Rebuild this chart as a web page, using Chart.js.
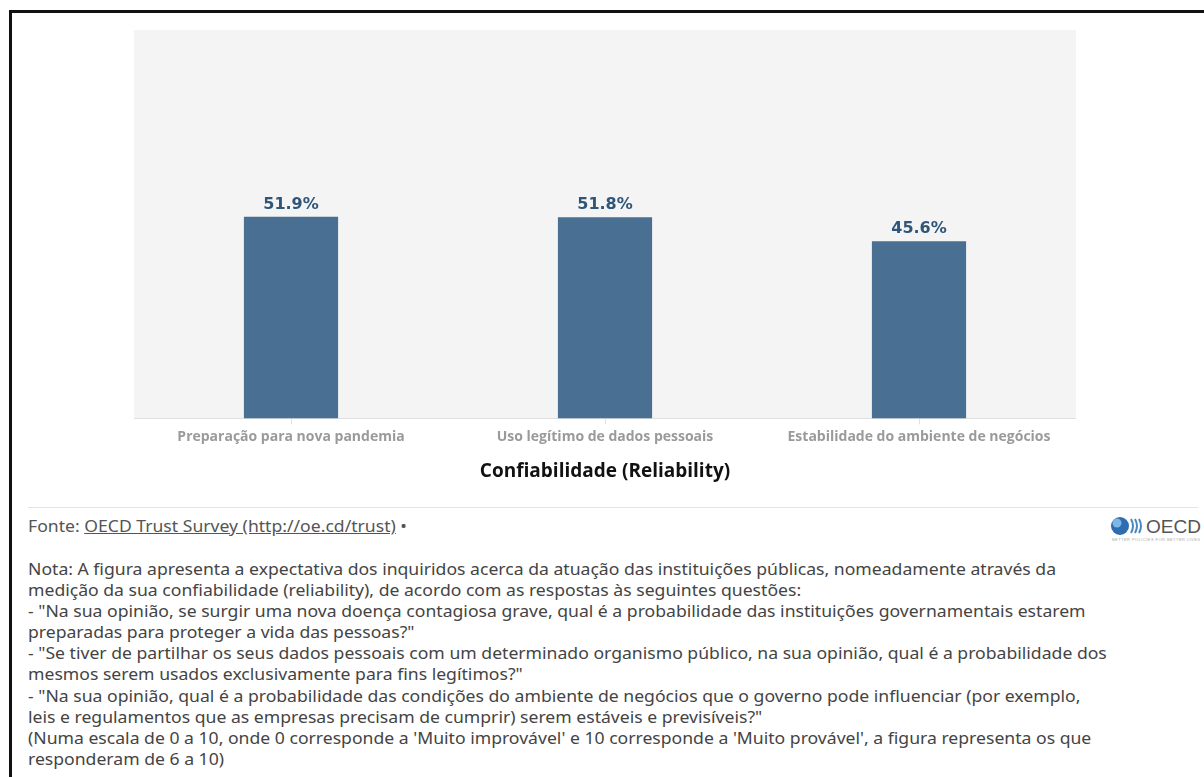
<!DOCTYPE html>
<html>
<head>
<meta charset="utf-8">
<script src="https://cdn.jsdelivr.net/npm/chart.js@4"></script>
<style>
  html, body { margin: 0; padding: 0; background: #fff; }
  body { width: 1204px; height: 777px; position: relative; overflow: hidden; }
  #frame { position: absolute; left: 9px; top: 10px; width: 1210px; height: 800px;
           border-top: 3px solid #111; border-left: 3px solid #111; }
  #chartBox { position: absolute; left: 134px; top: 30px; width: 942px; height: 457px; }
  #sep { position: absolute; left: 28px; top: 507px; width: 1170px; height: 1px; background: #e3e3e3; }
  #source { position: absolute; left: 28px; top: 515px; font: 16px "Noto Sans", sans-serif; color: #555;
            white-space: nowrap; transform: scaleX(1.1); transform-origin: left top; }
  #source a { color: #555; text-decoration: underline; }
  #logo { position: absolute; left: 1108px; top: 513px; width: 96px; height: 30px; }
  #note { position: absolute; left: 28px; top: 559px; font: 16px "Noto Sans", sans-serif; color: #444;
          line-height: 21.1px; white-space: pre; transform: scaleX(1.1); transform-origin: left top; }
</style>
</head>
<body>
<div id="frame"></div>
<div id="chartBox"><canvas id="barChart"></canvas></div>
<div id="sep"></div>
<div id="source">Fonte: <a>OECD Trust Survey (http://oe.cd/trust)</a> •</div>
<svg id="logo" viewBox="0 0 96 30">
  <circle cx="12" cy="13" r="9" fill="#2f6db0"/>
  <circle cx="9" cy="10" r="4.5" fill="#7db7e6"/>
  <path d="M23 6 q4 7 0 14 M27 6 q4 7 0 14 M31 6 q4 7 0 14" stroke="#4a86c0" stroke-width="2" fill="none"/>
  <text x="38" y="20" font-family="Liberation Sans" font-size="18" fill="#555" textLength="55" lengthAdjust="spacingAndGlyphs">OECD</text>
  <text x="4" y="28" font-family="Liberation Sans" font-size="4" fill="#aaa" textLength="88">BETTER POLICIES FOR BETTER LIVES</text>
</svg>
<div id="note"></div>

<script>
const categories = ['Preparação para nova pandemia', 'Uso legítimo de dados pessoais', 'Estabilidade do ambiente de negócios'];
const values = [51.9, 51.8, 45.6];
const axisTitle = 'Confiabilidade (Reliability)';
const noteLines = [
    'Nota: A figura apresenta a expectativa dos inquiridos acerca da atuação das instituições públicas, nomeadamente através da',
    'medição da sua confiabilidade (reliability), de acordo com as respostas às seguintes questões:',
    '- "Na sua opinião, se surgir uma nova doença contagiosa grave, qual é a probabilidade das instituições governamentais estarem',
    'preparadas para proteger a vida das pessoas?"',
    '- "Se tiver de partilhar os seus dados pessoais com um determinado organismo público, na sua opinião, qual é a probabilidade dos',
    'mesmos serem usados exclusivamente para fins legítimos?"',
    '- "Na sua opinião, qual é a probabilidade das condições do ambiente de negócios que o governo pode influenciar (por exemplo,',
    'leis e regulamentos que as empresas precisam de cumprir) serem estáveis e previsíveis?"',
    "(Numa escala de 0 a 10, onde 0 corresponde a 'Muito improvável' e 10 corresponde a 'Muito provável', a figura representa os que",
    'responderam de 6 a 10)'
];

document.getElementById('note').textContent = noteLines.join('\n');

// fundo cinza da área do gráfico
const plotBg = {
    id: 'plotBg',
    beforeDraw(chart) {
        const { ctx, chartArea: a } = chart;
        ctx.save();
        ctx.fillStyle = '#f4f4f4';
        ctx.fillRect(a.left, a.top, a.right - a.left, a.bottom - a.top);
        ctx.restore();
    }
};

// rótulos de valor acima das barras
const valueLabels = {
    id: 'valueLabels',
    afterDatasetsDraw(chart) {
        const ctx = chart.ctx;
        const meta = chart.getDatasetMeta(0);
        ctx.save();
        ctx.font = 'bold 16px "DejaVu Sans"';
        ctx.fillStyle = '#2f5579';
        ctx.textAlign = 'center';
        ctx.textBaseline = 'alphabetic';
        meta.data.forEach((bar, i) => {
            ctx.fillText(values[i].toFixed(1) + '%', bar.x, bar.y - 8);
        });
        ctx.restore();
    }
};

const chart = new Chart(document.getElementById('barChart').getContext('2d'), {
    type: 'bar',
    data: {
        labels: categories,
        datasets: [{
            data: values,
            backgroundColor: '#496f92',
            borderWidth: 0,
            categoryPercentage: 1,
            barPercentage: 0.3
        }]
    },
    options: {
        responsive: true,
        maintainAspectRatio: false,
        animation: false,
        layout: { padding: 0 },
        plugins: { legend: { display: false }, tooltip: { enabled: false } },
        scales: {
            x: {
                grid: { drawOnChartArea: false, drawTicks: true, tickLength: 6, tickColor: '#e0e0e0', offset: false },
                border: { color: '#e0e0e0', width: 1 },
                ticks: { color: '#9a9a9a', font: { family: 'Open Sans', size: 14, weight: 'bold' }, padding: 4, maxRotation: 0 },
                title: {
                    display: true, text: axisTitle, color: '#111',
                    font: { family: 'Open Sans', size: 19, weight: 'bold' },
                    padding: { top: 11, bottom: 4 }
                }
            },
            y: { display: false, min: 0, max: 100 }
        }
    },
    plugins: [plotBg, valueLabels]
});
</script>
</body>
</html>
